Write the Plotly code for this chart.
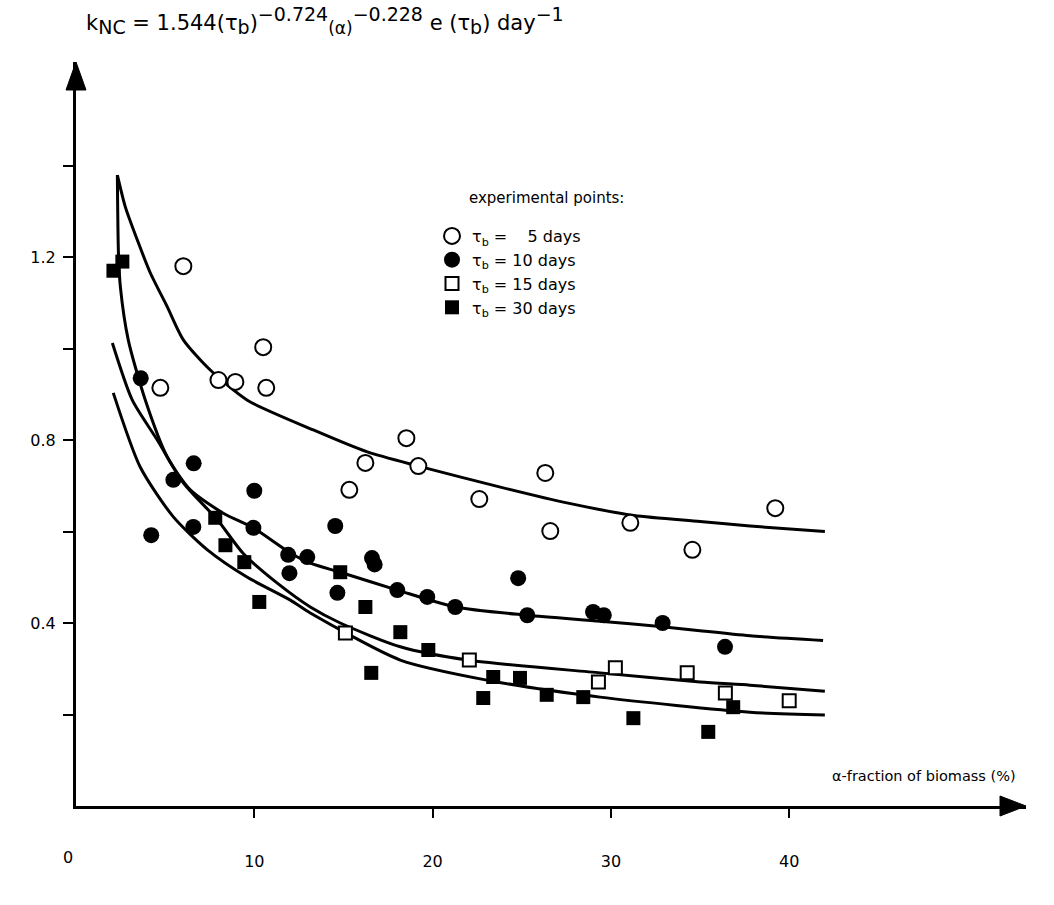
import plotly.graph_objects as go

# ---------------- data ----------------
# experimental points
alpha_5 = [4.73, 6.02, 7.99, 8.94, 10.5, 10.67, 15.33, 16.23, 18.53, 19.2, 22.62, 26.32, 26.6, 31.09, 34.57, 39.22]
k_5 = [0.914, 1.18, 0.931, 0.927, 1.003, 0.914, 0.691, 0.75, 0.804, 0.743, 0.671, 0.728, 0.601, 0.619, 0.56, 0.651]

alpha_10 = [3.63, 4.22, 5.46, 6.58, 6.6, 9.95, 10.0, 11.9, 11.97, 12.97, 14.54, 14.66, 16.6, 16.75,
            18.02, 19.7, 21.27, 24.8, 25.31, 29.0, 29.6, 32.9, 36.4]
k_10 = [0.935, 0.592, 0.713, 0.61, 0.749, 0.608, 0.689, 0.549, 0.509, 0.544, 0.612, 0.466, 0.542, 0.528,
        0.472, 0.457, 0.435, 0.498, 0.417, 0.424, 0.417, 0.40, 0.348]

alpha_15 = [15.11, 22.06, 29.3, 30.25, 34.28, 36.42, 40.0]
k_15 = [0.378, 0.319, 0.271, 0.302, 0.291, 0.247, 0.23]

alpha_30 = [2.1, 2.6, 7.81, 8.38, 9.44, 10.28, 14.82, 16.23, 16.56, 18.19, 19.76, 22.84, 23.4, 24.9,
            26.4, 28.45, 31.26, 35.46, 36.86]
k_30 = [1.17, 1.19, 0.63, 0.57, 0.533, 0.446, 0.511, 0.435, 0.291, 0.38, 0.341, 0.236, 0.282, 0.28,
        0.243, 0.238, 0.192, 0.162, 0.216]

# fitted curves
curve5_a = [2.32, 2.77, 3.44, 4.17, 5.12, 6.02, 7.53, 9.61, 13.31, 16.34, 19.2, 23.8, 27.6, 31.3, 35.0, 37.8, 42.0]
curve5_k = [1.379, 1.309, 1.237, 1.165, 1.091, 1.019, 0.953, 0.887, 0.822, 0.774, 0.743, 0.697, 0.662, 0.635, 0.622, 0.612, 0.60]

curve10_a = [2.32, 2.38, 2.49, 2.93, 3.89, 5.12, 6.41, 8.26, 9.94, 12.02, 13.14, 14.82, 18.02, 21.27,
             25.31, 29.4, 32.9, 35.0, 37.8, 41.9]
curve10_k = [1.379, 1.209, 1.134, 1.019, 0.887, 0.763, 0.691, 0.640, 0.608, 0.553, 0.531, 0.511, 0.472, 0.435,
             0.417, 0.404, 0.392, 0.383, 0.372, 0.362]

curve15_a = [2.04, 3.16, 4.56, 6.03, 7.94, 9.38, 11.29, 13.14, 14.82, 18.19, 21.95, 29.4, 35.0, 37.8, 42.0]
curve15_k = [1.012, 0.887, 0.80, 0.706, 0.625, 0.552, 0.487, 0.435, 0.40, 0.348, 0.319, 0.291, 0.271, 0.264, 0.251]

curve30_a = [2.09, 3.6, 5.46, 7.37, 9.61, 12.02, 13.14, 18.19, 23.07, 29.4, 37.8, 42.0]
curve30_k = [0.903, 0.741, 0.632, 0.56, 0.50, 0.45, 0.422, 0.319, 0.275, 0.238, 0.205, 0.199]

x_ticks = [10, 20, 30, 40]
y_ticks = [0.2, 0.4, 0.6, 0.8, 1.0, 1.2, 1.4]
y_ticktext = ["", "0.4", "", "0.8", "", "1.2", ""]

names = ["τ<sub>b</sub> =\u00a0\u00a0\u00a0 5 days", "τ<sub>b</sub> = 10 days",
         "τ<sub>b</sub> = 15 days", "τ<sub>b</sub> = 30 days"]

# ---------------- figure ----------------
FONT = "DejaVu Sans, Liberation Sans, Arial, sans-serif"
fig = go.Figure()

for a, k in [(curve5_a, curve5_k), (curve10_a, curve10_k), (curve15_a, curve15_k), (curve30_a, curve30_k)]:
    fig.add_trace(go.Scatter(x=a, y=k, mode="lines", showlegend=False, hoverinfo="skip",
                             line=dict(color="black", width=3, shape="spline", smoothing=0.7)))

fig.add_trace(go.Scatter(x=alpha_5, y=k_5, mode="markers", name=names[0],
                         marker=dict(symbol="circle", size=16, color="white",
                                     line=dict(color="black", width=2))))
fig.add_trace(go.Scatter(x=alpha_10, y=k_10, mode="markers", name=names[1],
                         marker=dict(symbol="circle", size=16, color="black",
                                     line=dict(color="black", width=0))))
fig.add_trace(go.Scatter(x=alpha_15, y=k_15, mode="markers", name=names[2],
                         marker=dict(symbol="square", size=13, color="white",
                                     line=dict(color="black", width=2))))
fig.add_trace(go.Scatter(x=alpha_30, y=k_30, mode="markers", name=names[3],
                         marker=dict(symbol="square", size=14, color="black",
                                     line=dict(color="black", width=0))))

L, R, T, B = 76, 28, 62, 99
W, H = 1054, 905
pw, ph = W - L - R, H - T - B
x_max = pw / 17.83
y_max = ph / 457.5

def px(xp):
    return (xp - L) / pw

def py(yp):
    return (H - B - yp) / ph

def big(s, size):
    return '<span style="font-size:%dpx">%s</span>' % (size, s)

title = ("k<sub>" + big("NC", 19) + "</sub> = 1.544(τ<sub>" + big("b", 19) + "</sub>)"
         "<sup>" + big("−0.724", 19) + "</sup><sub>" + big("(α)", 17) + "</sub>"
         "<sup>" + big("−0.228", 19) + "</sup> e (τ<sub>" + big("b", 19) + "</sub>) day"
         "<sup>" + big("−1", 19) + "</sup>")

fig.update_layout(
    width=W, height=H,
    margin=dict(l=L, r=R, t=T, b=B, pad=0),
    paper_bgcolor="white", plot_bgcolor="white",
    font=dict(family=FONT, color="black", size=16),
    xaxis=dict(range=[0, x_max], showgrid=False, zeroline=False, showline=True,
               linecolor="black", linewidth=3, tickvals=x_ticks, ticks="outside",
               ticklen=9, tickwidth=2, tickcolor="black", ticklabelstandoff=30,
               tickfont=dict(size=16, family=FONT)),
    yaxis=dict(range=[0, y_max], showgrid=False, zeroline=False, showline=True,
               linecolor="black", linewidth=3, tickvals=y_ticks, ticktext=y_ticktext,
               ticks="outside", ticklen=10, tickwidth=2, tickcolor="black",
               ticklabelstandoff=4, tickfont=dict(size=16, family=FONT)),
    legend=dict(x=px(432), y=py(219), xanchor="left", yanchor="top",
                bgcolor="rgba(0,0,0,0)", font=dict(size=16, family=FONT),
                itemclick=False, itemdoubleclick=False),
    shapes=[
        dict(type="path", xref="paper", yref="paper", xsizemode="pixel", ysizemode="pixel",
             xanchor=1, yanchor=0, path="M -26 -10 L 0 0 L -26 10 Z",
             fillcolor="black", line=dict(color="black", width=1)),
        dict(type="path", xref="paper", yref="paper", xsizemode="pixel", ysizemode="pixel",
             xanchor=0, yanchor=1, path="M -10 -28 L 0 0 L 10 -28 Z",
             fillcolor="black", line=dict(color="black", width=1)),
    ],
    annotations=[
        dict(xref="paper", yref="paper", x=px(84), y=py(21), xanchor="left", yanchor="middle",
             showarrow=False, font=dict(size=21, family=FONT), text=title),
        dict(xref="paper", yref="paper", x=px(467), y=py(198), xanchor="left", yanchor="middle",
             showarrow=False, font=dict(size=15, family=FONT), text="experimental points:"),
        dict(xref="paper", yref="paper", x=px(1018), y=py(776), xanchor="right", yanchor="middle",
             showarrow=False, font=dict(size=14.5, family=FONT), text="α-fraction of biomass (%)"),
        dict(xref="paper", yref="paper", x=px(68), y=py(857), xanchor="center", yanchor="middle",
             showarrow=False, font=dict(size=16, family=FONT), text="0"),
    ],
)

fig.write_html("out.html")
